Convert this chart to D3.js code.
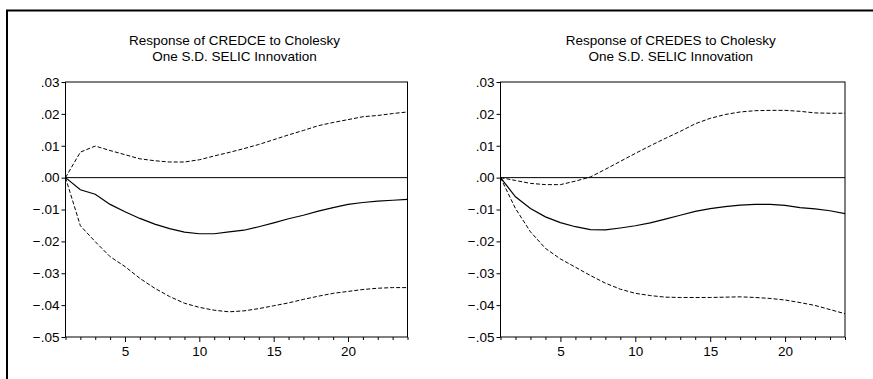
<!DOCTYPE html>
<meta charset="utf-8">
<style>
body { margin: 0; background: #fff; }
text { font-family: Arial, "Liberation Sans", sans-serif; fill: #000; }
.tick text { font-size: 13.5px; }
.title { font-size: 13.5px; text-anchor: middle; }
</style>
<svg width="873" height="379"></svg>
<script src="https://d3js.org/d3.v7.min.js"></script>
<script>
var svg = d3.select("svg");

// periods after the shock
var periods = [1, 2, 3, 4, 5, 6, 7, 8, 9, 10, 11, 12, 13, 14, 15, 16, 17, 18, 19, 20, 21, 22, 23, 24];
var yTicks = [0.03, 0.02, 0.01, 0.00, -0.01, -0.02, -0.03, -0.04, -0.05];
var xLabels = [5, 10, 15, 20];

// CREDCE response and +/- 2 S.E. bands
var credceResp = [0, -0.0038, -0.0052, -0.0084, -0.0107, -0.0128, -0.0146, -0.0160, -0.0171, -0.0176, -0.0176, -0.0170,
	-0.0165, -0.0154, -0.0142, -0.0129, -0.0118, -0.0105, -0.0094, -0.0084, -0.0078, -0.0074, -0.0071, -0.0068];
var credceUpper = [0, 0.0080, 0.0099, 0.0085, 0.0072, 0.0059, 0.0053, 0.0049, 0.0049, 0.0056, 0.0068, 0.0079,
	0.0091, 0.0104, 0.0119, 0.0134, 0.0148, 0.0163, 0.0173, 0.0182, 0.0191, 0.0195, 0.0201, 0.0206];
var credceLower = [0, -0.0151, -0.0201, -0.0248, -0.0279, -0.0316, -0.0347, -0.0373, -0.0394, -0.0407, -0.0416, -0.0421,
	-0.0418, -0.0411, -0.0402, -0.0393, -0.0382, -0.0372, -0.0363, -0.0357, -0.0351, -0.0347, -0.0345, -0.0345];

// CREDES response and +/- 2 S.E. bands
var credesResp = [0, -0.0060, -0.0097, -0.0123, -0.0141, -0.0154, -0.0163, -0.0164, -0.0158, -0.0151, -0.0142, -0.0130,
	-0.0118, -0.0106, -0.0097, -0.0091, -0.0086, -0.0084, -0.0084, -0.0087, -0.0094, -0.0098, -0.0104, -0.0113];
var credesUpper = [0, -0.0009, -0.0018, -0.0022, -0.0022, -0.0011, 0.0002, 0.0026, 0.0051, 0.0076, 0.0100, 0.0123,
	0.0145, 0.0169, 0.0186, 0.0198, 0.0206, 0.0210, 0.0211, 0.0211, 0.0208, 0.0203, 0.0202, 0.0202];
var credesLower = [0, -0.0097, -0.0170, -0.0222, -0.0255, -0.0281, -0.0307, -0.0331, -0.0350, -0.0363, -0.0370, -0.0375,
	-0.0376, -0.0376, -0.0376, -0.0375, -0.0374, -0.0376, -0.0379, -0.0384, -0.0392, -0.0401, -0.0414, -0.0427];

// outer frame (only left and top edges fall inside the picture)
svg.append("rect")
	.attr("x", 7)
	.attr("y", 10.5)
	.attr("width", 900)
	.attr("height", 400)
	.style("fill", "none")
	.style("stroke", "#000")
	.style("stroke-width", 2);

var plotTop = 82, plotBottom = 337;

function fmt(d) {
	return d3.format(".2f")(d).replace("0.", ".");
}

function drawPanel(left, right, title, resp, upper, lower)
{
	var x = d3.scaleLinear().domain([1, 24]).range([left, right]);
	var y = d3.scaleLinear().domain([-0.05, 0.03]).range([plotBottom, plotTop]);
	var g = svg.append("g");

	var cx = (left + right) / 2 - 2;
	g.append("text").attr("class", "title").attr("x", cx).attr("y", 45).text(title[0]);
	g.append("text").attr("class", "title").attr("x", cx).attr("y", 61).text(title[1]);

	g.append("g")
		.attr("transform", "translate(" + left + ",0)")
		.call(d3.axisLeft(y).tickValues(yTicks).tickFormat(fmt).tickSize(4).tickPadding(2))
		.call(function(a) { a.select(".domain").remove(); });

	var xa = g.append("g")
		.attr("transform", "translate(0," + plotBottom + ")")
		.call(d3.axisBottom(x).tickValues(periods).tickSizeOuter(0).tickPadding(6)
			.tickSize(3)
			.tickFormat(function(d) { return xLabels.indexOf(d) >= 0 ? d : ""; }));
	xa.select(".domain").remove();
	xa.selectAll(".tick line")
		.attr("y2", function(d) { return d % 5 == 0 ? 5 : 3; });

	// plot box
	g.append("rect")
		.attr("x", left)
		.attr("y", plotTop)
		.attr("width", right - left)
		.attr("height", plotBottom - plotTop)
		.style("fill", "none")
		.style("stroke", "#000")
		.style("stroke-width", 1);

	// zero line
	g.append("line")
		.attr("x1", left).attr("x2", right)
		.attr("y1", y(0)).attr("y2", y(0))
		.style("stroke", "#000");

	var line = d3.line()
		.x(function(d, i) { return x(periods[i]); })
		.y(function(d) { return y(d); });

	g.append("path").attr("d", line(upper))
		.style("fill", "none").style("stroke", "#000").style("stroke-width", 1)
		.style("stroke-dasharray", "4,2");
	g.append("path").attr("d", line(lower))
		.style("fill", "none").style("stroke", "#000").style("stroke-width", 1)
		.style("stroke-dasharray", "4,2");
	g.append("path").attr("d", line(resp))
		.style("fill", "none").style("stroke", "#000").style("stroke-width", 1.2);
}

drawPanel(65.5, 407.5, ["Response of CREDCE to Cholesky", "One S.D. SELIC Innovation"],
	credceResp, credceUpper, credceLower);
drawPanel(500.5, 845, ["Response of CREDES to Cholesky", "One S.D. SELIC Innovation"],
	credesResp, credesUpper, credesLower);
</script>
